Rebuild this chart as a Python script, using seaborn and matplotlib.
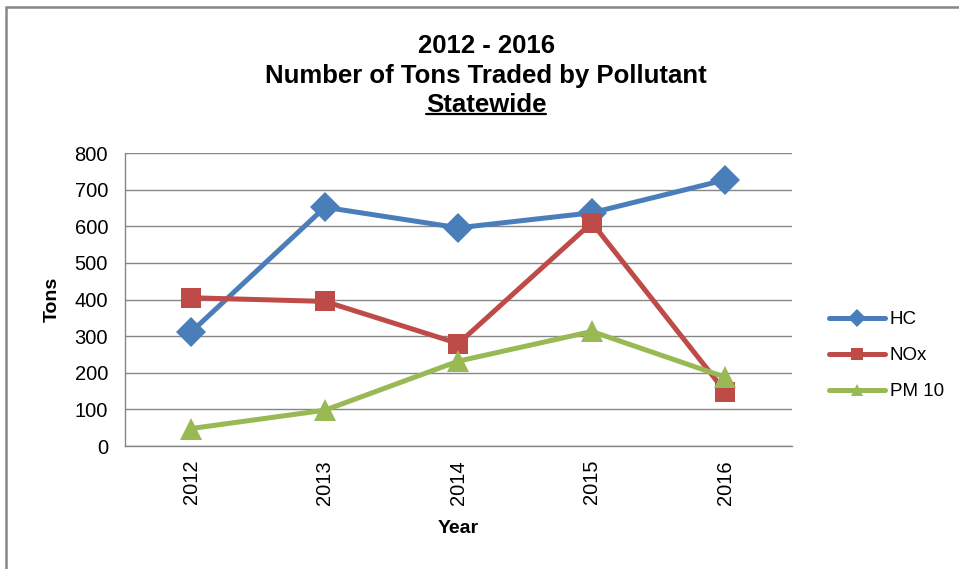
import numpy as np
import pandas as pd
import matplotlib.pyplot as plt
import seaborn as sns
from matplotlib.lines import Line2D
from matplotlib.patches import Rectangle

years = [2012, 2013, 2014, 2015, 2016]
hc = [312, 652, 596, 637, 727]
nox = [405, 395, 280, 610, 148]
pm10 = [48, 98, 232, 313, 188]
series_names = ['HC', 'NOx', 'PM 10']
colors = ['#4A7EBB', '#BE4B48', '#98B954']
markers = ['D', 's', '^']
marker_sizes = [15, 15, 16]

df = pd.concat([
    pd.DataFrame({'Year': years, 'Tons': hc, 'name': 'HC'}),
    pd.DataFrame({'Year': years, 'Tons': nox, 'name': 'NOx'}),
    pd.DataFrame({'Year': years, 'Tons': pm10, 'name': 'PM 10'}),
], ignore_index=True)

sns.set_style('white')
plt.rcParams['font.family'] = ['Liberation Sans', 'DejaVu Sans']
plt.rcParams['text.color'] = 'black'
plt.rcParams['axes.labelcolor'] = 'black'
plt.rcParams['xtick.color'] = 'black'
plt.rcParams['ytick.color'] = 'black'

fig = plt.figure(figsize=(9.59, 5.69), dpi=100)
ax = fig.add_axes([0.130, 0.216, 0.696, 0.515])

sns.lineplot(data=df, x='Year', y='Tons', hue='name', style='name',
             hue_order=series_names, style_order=series_names,
             palette=colors, markers=markers, dashes=False,
             linewidth=3.6, markersize=14, markeredgewidth=0, ax=ax, legend=False)
for line, ms in zip(ax.lines, marker_sizes):
    line.set_markersize(ms)

ax.set_xlim(2011.5, 2016.5)
ax.set_ylim(0, 800)
ax.set_yticks(range(0, 801, 100))
ax.set_xticks(years)
ax.set_xticklabels([str(y) for y in years], rotation=90, fontsize=14.5)
ax.set_xticks(np.arange(2011.5, 2017, 1), minor=True)
ax.tick_params(axis='x', which='major', length=0, pad=10)
ax.tick_params(axis='x', which='minor', length=7, color='#868686', width=1, direction='out')
ax.tick_params(axis='y', length=7, color='#868686', width=1, direction='out', labelsize=14.5, pad=5,
               labelcolor='black')
ax.yaxis.grid(True, color='#868686', linewidth=1)
for s in ['top', 'right']:
    ax.spines[s].set_visible(False)
for s in ['left', 'bottom']:
    ax.spines[s].set_color('#868686')
    ax.spines[s].set_linewidth(1)
ax.set_axisbelow(True)
ax.set_xlabel('Year', fontsize=14, fontweight='bold', labelpad=11)
ax.set_ylabel('Tons', fontsize=14, fontweight='bold', labelpad=10)

handles = [Line2D([], [], color=c, marker=m, linewidth=3.6, markersize=9, markeredgewidth=0)
           for c, m in zip(colors, markers)]
leg = fig.legend(handles, series_names, loc='center left', bbox_to_anchor=(0.864, 0.375),
                 frameon=False, fontsize=13.5, handlelength=3.0, labelspacing=1.0, handletextpad=0.25,
                 borderaxespad=0, borderpad=0)

tx = 0.507
fig.text(tx, 0.919, '2012 - 2016', ha='center', va='center', fontsize=18.5, fontweight='bold')
fig.text(tx, 0.867, 'Number of Tons Traded by Pollutant', ha='center', va='center', fontsize=18.5, fontweight='bold')
t3 = fig.text(tx, 0.816, 'Statewide', ha='center', va='center', fontsize=18.5, fontweight='bold')

fig.canvas.draw()
bb = t3.get_window_extent().transformed(fig.transFigure.inverted())
fig.add_artist(Line2D([bb.x0, bb.x1], [bb.y0 + 0.004, bb.y0 + 0.004], color='black', linewidth=1.6,
                      transform=fig.transFigure))

fig.add_artist(Rectangle((0.0065, -0.05), 1.1, 1.038, transform=fig.transFigure,
                         fill=False, edgecolor='#868686', linewidth=1.8))

fig.savefig('out.png', dpi=100)
